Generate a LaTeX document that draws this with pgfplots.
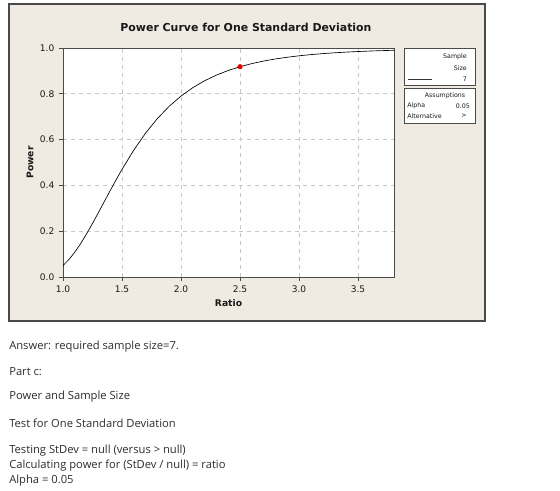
\documentclass[border=0pt]{standalone}
\usepackage{pgfplots}
\pgfplotsset{compat=1.18}
\usepackage{fontspec}
\setmainfont{DejaVu Sans}
\newfontfamily\bodyfont{Open Sans}
\definecolor{panel}{HTML}{EFEBE2}
\definecolor{frame}{HTML}{4A4A4A}
\definecolor{txt}{HTML}{2E2E2E}
\begin{document}
\begin{tikzpicture}[x=0.75pt,y=0.75pt]
% background and panel (pixel coordinates, y measured upward from bottom = 490 - ypx)
\fill[white] (0,0) rectangle (560,490);
\filldraw[fill=panel, draw=frame, line width=0.8pt] (9,169) rectangle (485,486);
\node[font=\bfseries\fontsize{8.2}{9}\selectfont, text=black!90] at (246,463) {Power Curve for One Standard Deviation};
\begin{axis}[
  at={(47.25pt,159.75pt)}, anchor=south west,
  scale only axis, width=248.25pt, height=171.75pt,
  xmin=1, xmax=3.805, ymin=0, ymax=1,
  xtick={1,1.5,2,2.5,3,3.5}, ytick={0,0.2,0.4,0.6,0.8,1},
  xticklabel style={/pgf/number format/.cd, fixed, fixed zerofill, precision=1},
  yticklabel style={/pgf/number format/.cd, fixed, fixed zerofill, precision=1},
  /pgf/number format/assume math mode=true,
  tick label style={font=\fontsize{6.8}{7}\selectfont, text=black!90},
  grid=major, grid style={dashed, black!22, line width=0.5pt},
  axis background/.style={fill=white},
  tick align=outside, tick pos=left, major tick length=3pt,
  axis line style={frame, line width=0.7pt}, tick style={frame, line width=0.6pt},
  xlabel={\textbf{Ratio}}, ylabel={\textbf{Power}},
  label style={font=\fontsize{6.9}{8}\selectfont, text=black!90},
  xlabel style={at={(axis description cs:0.5,0)}, anchor=center, yshift=-19.5pt},
  ylabel style={at={(axis description cs:0,0.5)}, anchor=center, yshift=24.75pt},
  clip=false,
]
\addplot[black, line width=0.5pt] coordinates {
(1.00,0.0500) (1.05,0.0762) (1.10,0.1085) (1.15,0.1463) (1.20,0.1885)
(1.25,0.2339) (1.30,0.2812) (1.35,0.3293) (1.40,0.3773) (1.45,0.4243)
(1.50,0.4700) (1.60,0.5542) (1.70,0.6285) (1.80,0.6920) (1.90,0.7455)
(2.00,0.7901) (2.10,0.8268) (2.20,0.8570) (2.30,0.8816) (2.40,0.9018)
(2.50,0.9183) (2.60,0.9319) (2.70,0.9430) (2.80,0.9522) (2.90,0.9596)
(3.00,0.9659) (3.10,0.9711) (3.20,0.9754) (3.30,0.9790) (3.40,0.9821)
(3.50,0.9846) (3.60,0.9867) (3.70,0.9885) (3.805,0.9901)
};
\addplot[only marks, mark=*, mark size=1.7pt, color=red!90!black] coordinates {(2.5,0.9183)};
\end{axis}
% legend boxes
\filldraw[fill=white, draw=frame, line width=0.6pt] (404,405) rectangle (475,442);
\filldraw[fill=white, draw=frame, line width=0.6pt] (404,367) rectangle (475,402);
\begin{scope}[every node/.style={font=\fontsize{4.7}{5}\selectfont, text=black!90, inner sep=0pt}]
\node[anchor=east] at (467,433) {Sample};
\node[anchor=east] at (467,422) {Size};
\draw[black!80, line width=0.5pt] (408,411) -- (432,411);
\node[anchor=east] at (467,411) {7};
\node[anchor=center] at (445,394) {Assumptions};
\node[anchor=west] at (407,384) {Alpha};
\node[anchor=east] at (470,384) {0.05};
\node[anchor=west] at (407,374) {Alternative};
\node[anchor=east] at (467,374) {>};
\end{scope}
% text below
\begin{scope}[every node/.style={font=\bodyfont\fontsize{8.4}{9}\selectfont, text=txt, anchor=west, inner sep=0pt}]
\node at (9,143) {Answer: required sample size=7.};
\node at (9,118) {Part c:};
\node at (9,93) {Power and Sample Size};
\node at (9,67) {Test for One Standard Deviation};
\node at (9,39) {Testing StDev = null (versus > null)};
\node at (9,24) {Calculating power for (StDev / null) = ratio};
\node at (9,9) {Alpha = 0.05};
\end{scope}
\end{tikzpicture}
\end{document}
